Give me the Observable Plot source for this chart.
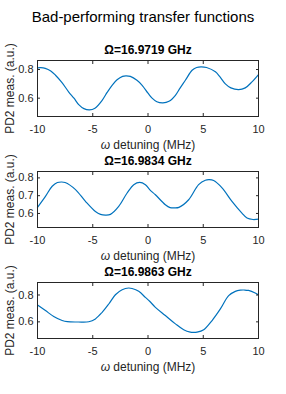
<!DOCTYPE html>
<html><head><meta charset="utf-8">
<script src="https://cdn.jsdelivr.net/npm/d3@7"></script>
<script src="https://cdn.jsdelivr.net/npm/@observablehq/plot@0.6"></script>
<style>
body{margin:0;background:#fff;}
#wrap{position:relative;width:286px;height:394px;font-family:"Liberation Sans",Arial,sans-serif;overflow:hidden;}
#title{position:absolute;left:0;top:7px;width:286px;text-align:center;font-size:15px;color:#000;line-height:20px;}
.panel{position:absolute;left:0;}
</style></head><body>
<div id="wrap"><div id="title"></div></div>
<script>
const mainTitle = "Bad-performing transfer functions";
const panelTitles = ["Ω=16.9719 GHz", "Ω=16.9834 GHz", "Ω=16.9863 GHz"];
const xLabel = "ω detuning (MHz)";
const yLabel = "PD2 meas. (a.u.)";
const xTicks = [-10, -5, 0, 5, 10];
const yTicks1 = [0.6, 0.8];
const yTicks2 = [0.6, 0.7, 0.8];
const yTicks3 = [0.6, 0.8];
const yDomain1 = [0.472, 0.863];
const yDomain2 = [0.521, 0.836];
const yDomain3 = [0.476, 0.893];

const x1 = [-10,-9.7,-9.3,-8.8,-8.37,-7.8,-7.17,-6.7,-6.27,-5.8,-5.3,-4.8,-4.15,-3.7,-3.25,-2.8,-2.3,-2.0,-1.6,-1.0,-0.53,0.0,0.37,0.8,1.35,1.9,2.48,2.9,3.38,3.99,4.4,4.8,5.3,6.1,6.5,7.0,7.5,8.2,8.8,9.41,10];
const y1 = [0.812,0.813,0.808,0.79,0.76,0.71,0.643,0.6,0.555,0.527,0.518,0.53,0.585,0.64,0.69,0.728,0.752,0.756,0.752,0.725,0.69,0.635,0.60,0.575,0.567,0.578,0.62,0.67,0.725,0.795,0.814,0.819,0.814,0.784,0.75,0.70,0.672,0.66,0.672,0.714,0.765];

const x2 = [-10,-9.28,-8.67,-8.2,-7.85,-7.5,-6.56,-5.66,-4.76,-4.3,-3.85,-3.4,-2.65,-1.89,-1.29,-0.75,-0.235,0.15,0.67,1.57,2.0,2.4,2.8,3.68,4.58,5.19,5.55,5.94,6.7,7.6,8.5,8.96,9.5,10];
const y2 = [0.634,0.696,0.753,0.774,0.777,0.774,0.734,0.668,0.611,0.595,0.591,0.595,0.64,0.715,0.762,0.775,0.762,0.734,0.705,0.649,0.633,0.631,0.634,0.677,0.762,0.787,0.79,0.785,0.744,0.668,0.602,0.574,0.566,0.568];

const x3 = [-10,-9.28,-8.53,-7.77,-7.3,-6.3,-5.36,-4.76,-4.15,-3.55,-2.95,-2.34,-1.75,-1.44,-0.84,-0.235,0.15,0.67,1.57,2.48,3.23,3.83,4.1,4.44,5.04,5.8,6.55,7.3,7.9,8.35,8.7,9.1,9.7,10];
const y3 = [0.726,0.684,0.64,0.61,0.601,0.599,0.601,0.622,0.671,0.733,0.802,0.839,0.852,0.848,0.827,0.782,0.753,0.708,0.647,0.585,0.541,0.523,0.521,0.523,0.541,0.61,0.696,0.795,0.827,0.836,0.837,0.834,0.815,0.80];

const panels = [
  {xs: x1, ys: y1, yTicks: yTicks1, yDomain: yDomain1, title: panelTitles[0], boxTop: 60},
  {xs: x2, ys: y2, yTicks: yTicks2, yDomain: yDomain2, title: panelTitles[1], boxTop: 171},
  {xs: x3, ys: y3, yTicks: yTicks3, yDomain: yDomain3, title: panelTitles[2], boxTop: 282}
];

document.getElementById("title").textContent = mainTitle;

const axisColor = "#262626";
const lineColor = "#0072BD";
const wrap = document.getElementById("wrap");
const mT = 22, boxH = 56, mB = 34;

for (const p of panels) {
  const data = p.xs.map((x, i) => ({x, y: p.ys[i]}));
  const svg = Plot.plot({
    width: 286,
    height: mT + boxH + mB,
    marginTop: mT,
    marginBottom: mB,
    marginLeft: 37,
    marginRight: 28,
    style: {color: axisColor, fontFamily: "'Liberation Sans', Arial, sans-serif", fontSize: "11px", background: "transparent", overflow: "visible"},
    x: {domain: [-10, 10]},
    y: {domain: p.yDomain},
    marks: [
      Plot.line(data, {x: "x", y: "y", stroke: lineColor, strokeWidth: 1.2, curve: "catmull-rom"}),
      Plot.frame({stroke: axisColor, strokeWidth: 1}),
      Plot.axisX({ticks: xTicks, tickSize: -3, tickPadding: 11.5, tickFormat: d => String(d), label: null, fontSize: 11}),
      Plot.axisX({anchor: "top", ticks: xTicks, tickSize: -3, tickFormat: () => "", label: null}),
      Plot.axisY({ticks: p.yTicks, tickSize: -3, tickPadding: 7, tickFormat: d => d.toFixed(1), label: null, fontSize: 11}),
      Plot.axisY({anchor: "right", ticks: p.yTicks, tickSize: -3, tickFormat: () => "", label: null}),
      Plot.text([p.title], {text: d => d, frameAnchor: "top", dy: -10, textAnchor: "middle", lineAnchor: "middle", fontWeight: "bold", fontSize: 12, fill: "#000"}),
      Plot.text([xLabel], {text: d => d, frameAnchor: "bottom", dy: 28.3, textAnchor: "middle", lineAnchor: "middle", fontSize: 12, fill: axisColor}),
      Plot.text([yLabel], {text: d => d, frameAnchor: "left", dx: -27, rotate: -90, textAnchor: "middle", lineAnchor: "middle", fontSize: 12, fill: axisColor})
    ]
  });
  svg.classList.add("panel");
  svg.style.position = "absolute";
  svg.style.top = (p.boxTop - mT) + "px";
  svg.style.left = "0px";
  svg.querySelectorAll("text").forEach(t => {
    if (t.textContent === xLabel) {
      t.innerHTML = '<tspan font-style="italic">ω</tspan> detuning (MHz)';
    }
  });
  wrap.appendChild(svg);
}
</script>
</body></html>
